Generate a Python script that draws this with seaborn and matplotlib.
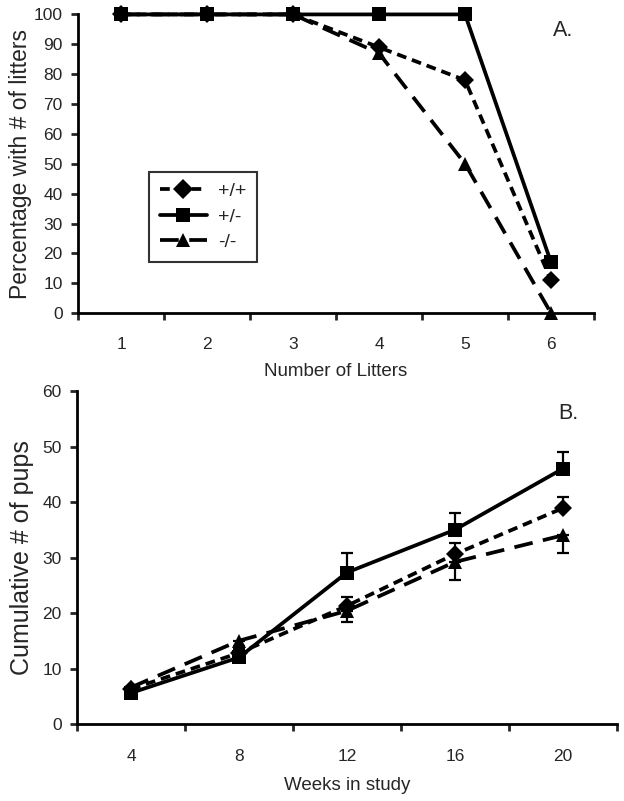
import numpy as np
import pandas as pd
import seaborn as sns
import matplotlib
matplotlib.use("Agg")
import matplotlib.pyplot as plt

# panel A: percentage of dams reaching each litter number
litters = [1, 2, 3, 4, 5, 6]
pct_wt = [100, 100, 100, 89, 78, 11]
pct_het = [100, 100, 100, 100, 100, 17]
pct_ko = [100, 100, 100, 87, 50, 0]

# panel B: cumulative pups per week
weeks = [4, 8, 12, 16, 20]
pups_wt = [6.3, 12.8, 21.3, 30.6, 38.9]
pups_het = [5.6, 12.0, 27.3, 35.0, 46.0]
pups_ko = [6.6, 15.0, 20.4, 29.2, 34.0]
err_wt = [0.4, 0.7, 1.6, 2.0, 2.0]     # upper bars
err_het = [0.5, 0.8, 3.6, 3.0, 3.1]    # upper bars
err_ko = [0.4, 0.9, 2.1, 3.3, 3.2]     # lower bars

genotypes = ["+/+", "+/-", "-/-"]

sns.set_style("white")
plt.rcParams["font.family"] = ["Liberation Sans", "DejaVu Sans"]

df_a = pd.DataFrame({
    "x": litters * 3,
    "y": pct_wt + pct_het + pct_ko,
    "genotype": np.repeat(genotypes, len(litters)),
})
df_b = pd.DataFrame({
    "x": weeks * 3,
    "y": pups_wt + pups_het + pups_ko,
    "genotype": np.repeat(genotypes, len(weeks)),
})

markers = {"+/+": "D", "+/-": "s", "-/-": "^"}
dashes = {"+/+": (2.6, 1.6), "+/-": "", "-/-": (5, 2.8)}

fig = plt.figure(figsize=(6.24, 8.01), dpi=100)
ax1 = fig.add_axes([0.125, 0.609, 0.827, 0.373])
ax2 = fig.add_axes([0.1234, 0.0961, 0.865, 0.4157])

line_kw = dict(color="black", linewidth=2.7, markersize=10, markeredgewidth=0,
               clip_on=False)

sns.lineplot(data=df_a, x="x", y="y", style="genotype", style_order=genotypes,
             markers=markers, dashes=dashes, ax=ax1, **line_kw)
sns.lineplot(data=df_b, x="x", y="y", style="genotype", style_order=genotypes,
             markers=markers, dashes=dashes, ax=ax2, legend=False, **line_kw)

# solid line on top in panel A so the squares cover the others
ax1.lines[1].set_zorder(5)
for ax in (ax1, ax2):
    for ln in ax.lines[:3]:
        ln.set_clip_on(False)
    ax.lines[0].set_markersize(9)

z = np.zeros(len(weeks))
err_kw = dict(fmt="none", ecolor="black", elinewidth=1.6, capsize=4, capthick=1.6)
ax2.errorbar(weeks, pups_wt, yerr=[z, err_wt], **err_kw)
ax2.errorbar(weeks, pups_het, yerr=[z, err_het], **err_kw)
ax2.errorbar(weeks, pups_ko, yerr=[err_ko, z], **err_kw)

# legend
handles, labels = ax1.get_legend_handles_labels()
leg = ax1.legend(handles, labels, loc="upper left", bbox_to_anchor=(0.138, 0.473),
                 frameon=True, fancybox=False, handlelength=2.4, fontsize=14,
                 borderpad=0.55, labelspacing=0.4, handletextpad=0.6, title=None,
                 borderaxespad=0)
leg.get_frame().set_edgecolor("black")
leg.get_frame().set_linewidth(1.5)

for ax in (ax1, ax2):
    for s in ("top", "right"):
        ax.spines[s].set_visible(False)
    for s in ("left", "bottom"):
        ax.spines[s].set_linewidth(2)
        ax.spines[s].set_color("black")
    ax.tick_params(which="major", direction="out", length=5, width=2,
                   labelsize=12.5, left=True, bottom=True)
    ax.tick_params(which="minor", length=0, labelsize=12.5, bottom=True)
    ax.tick_params(axis="y", pad=6)

ax1.set_xlim(0.5, 6.5)
ax1.set_ylim(0, 100)
ax1.set_yticks(range(0, 101, 10))
ax1.set_xticks(np.arange(0.5, 7, 1), [""] * 7)
ax1.set_xticks(litters, [str(v) for v in litters], minor=True)
ax1.tick_params(axis="x", which="minor", pad=17)
ax1.set_xlabel("Number of Litters", fontsize=13.5, labelpad=8)
ax1.set_ylabel("Percentage with # of litters", fontsize=16.5, labelpad=1)
ax1.text(0.92, 0.946, "A.", transform=ax1.transAxes, fontsize=15.5, va="center")

ax2.set_xlim(2, 22)
ax2.set_ylim(0, 60)
ax2.set_yticks(range(0, 61, 10))
ax2.set_xticks(np.arange(2, 23, 4), [""] * 6)
ax2.set_xticks(weeks, [str(v) for v in weeks], minor=True)
ax2.tick_params(axis="x", which="minor", pad=18)
ax2.set_xlabel("Weeks in study", fontsize=13.5, labelpad=9)
ax2.set_ylabel("Cumulative # of pups", fontsize=18, labelpad=6)
ax2.text(0.892, 0.934, "B.", transform=ax2.transAxes, fontsize=15.5, va="center")

fig.savefig("out.png", dpi=100)
